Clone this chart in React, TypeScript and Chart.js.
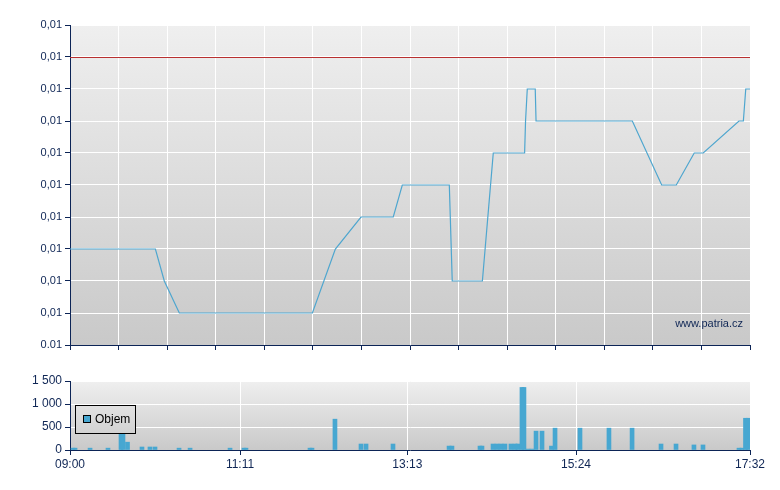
import React, { useEffect, useRef } from "react";
import { Chart, registerables } from "chart.js";

Chart.register(...registerables);

// minutes after 09:00
const priceTimes = [0, 64.3, 71, 82.3, 182.5, 199.8, 219.1, 243.4, 250.2, 285.6, 287.8, 310.5, 318.7, 342.3, 343, 344.3, 350.3, 350.9, 423.4, 445.5, 456.5, 470, 476.8, 503.7, 507, 508.8, 512];
const priceValues = [0.0103, 0.0103, 0.0102, 0.0101, 0.0101, 0.0103, 0.0104, 0.0104, 0.0105, 0.0105, 0.0102, 0.0102, 0.0106, 0.0106, 0.0107, 0.0108, 0.0108, 0.0107, 0.0107, 0.0105, 0.0105, 0.0106, 0.0106, 0.0107, 0.0107, 0.0108, 0.0108];
const referencePrice = 0.0109;

const priceTicks = [0.0100, 0.0101, 0.0102, 0.0103, 0.0104, 0.0105, 0.0106, 0.0107, 0.0108, 0.0109, 0.0110];
const priceTickLabels = ["0.01", "0,01", "0,01", "0,01", "0,01", "0,01", "0,01", "0,01", "0,01", "0,01", "0,01"];

const volumeTimes = [2.3, 3.8, 15.1, 28.6, 38.4, 39.9, 43.3, 54.2, 60.2, 64.0, 82.1, 90.4, 120.5, 131.0, 132.5, 180.7, 182.2, 199.5, 219.1, 222.9, 243.2, 285.4, 287.6, 308.7, 310.2, 318.5, 321.5, 324.5, 327.5, 332.0, 335.1, 337.3, 340.3, 341.8, 344.8, 347.9, 350.9, 355.4, 362.5, 365.2, 384.0, 405.8, 423.2, 445.0, 456.3, 469.8, 476.6, 503.7, 505.9, 508.6, 510.5];
const volumeValues = [40, 40, 40, 40, 370, 370, 170, 65, 65, 65, 40, 40, 40, 40, 40, 40, 40, 670, 130, 130, 130, 85, 85, 85, 85, 130, 130, 130, 130, 130, 130, 130, 1360, 1360, 20, 20, 410, 410, 85, 475, 475, 475, 475, 130, 130, 110, 110, 40, 40, 690, 690];

const volumeTicks = [0, 500, 1000, 1500];
const volumeTickLabels = ["0", "500", "1 000", "1 500"];

const timeTickMinutes = [0, 128, 254, 381, 512];
const timeTickLabels = ["09:00", "11:11", "13:13", "15:24", "17:32"];

const TOTAL_MIN = 512;
const NAVY = "#0c2456";
const TEXT = "#0f2655";
const LINE = "#4ea6cf";
const BAR = "#47a7d1";
const FONT = { family: "Arial, 'Liberation Sans', sans-serif", size: 11 };

const bgPlugin = {
  id: "bgGrad",
  beforeDraw(chart: any) {
    const { ctx, chartArea: a } = chart;
    const g = ctx.createLinearGradient(0, a.top, 0, a.bottom);
    g.addColorStop(0, "#efefef");
    g.addColorStop(1, "#c9c9c9");
    ctx.save();
    ctx.fillStyle = g;
    ctx.fillRect(a.left, a.top, a.right - a.left, a.bottom - a.top);
    ctx.restore();
  },
};

const refLinePlugin = {
  id: "refLine",
  beforeDatasetsDraw(chart: any) {
    const { ctx, chartArea: a, scales } = chart;
    const y = Math.round(scales.y.getPixelForValue(referencePrice)) + 0.5;
    ctx.save();
    ctx.strokeStyle = "#b83030";
    ctx.lineWidth = 1;
    ctx.beginPath();
    ctx.moveTo(a.left, y);
    ctx.lineTo(a.right, y);
    ctx.stroke();
    ctx.restore();
  },
};

const watermarkPlugin = {
  id: "watermark",
  afterDraw(chart: any) {
    const { ctx, chartArea: a } = chart;
    ctx.save();
    ctx.font = "11px Arial, 'Liberation Sans', sans-serif";
    ctx.fillStyle = TEXT;
    ctx.textAlign = "right";
    ctx.textBaseline = "middle";
    ctx.fillText("www.patria.cz", a.right - 7, a.bottom - 21);
    ctx.restore();
  },
};

const legendPlugin = {
  id: "boxLegend",
  afterDatasetsDraw(chart: any) {
    const { ctx, chartArea: a } = chart;
    const x = a.left + 5;
    const y = a.top + 24;
    const w = 60;
    const h = 28;
    ctx.save();
    const g = ctx.createLinearGradient(0, a.top, 0, a.bottom);
    g.addColorStop(0, "#efefef");
    g.addColorStop(1, "#c9c9c9");
    ctx.fillStyle = g;
    ctx.fillRect(x, y, w, h);
    ctx.strokeStyle = "#000000";
    ctx.lineWidth = 1;
    ctx.strokeRect(x + 0.5, y + 0.5, w, h);
    ctx.fillStyle = BAR;
    ctx.fillRect(x + 8, y + 10, 7, 7);
    ctx.strokeRect(x + 8.5, y + 10.5, 7, 7);
    ctx.fillStyle = "#000000";
    ctx.font = "12px Arial, 'Liberation Sans', sans-serif";
    ctx.textBaseline = "middle";
    ctx.textAlign = "left";
    ctx.fillText("Objem", x + 20, y + 15);
    ctx.restore();
  },
};

export default function App() {
  const topRef = useRef<HTMLCanvasElement>(null);
  const botRef = useRef<HTMLCanvasElement>(null);

  useEffect(() => {
    const top = new Chart(topRef.current as HTMLCanvasElement, {
      type: "line",
      data: {
        datasets: [
          {
            data: priceTimes.map((t, i) => ({ x: t, y: priceValues[i] })),
            borderColor: LINE,
            borderWidth: 1.2,
            pointRadius: 0,
            tension: 0,
          },
        ],
      },
      options: {
        responsive: false,
        animation: false,
        layout: { padding: { top: 25, right: 30, left: 0, bottom: 0 } },
        plugins: { legend: { display: false }, tooltip: { enabled: false } },
        scales: {
          x: {
            type: "linear",
            min: 0,
            max: TOTAL_MIN,
            afterBuildTicks: (s: any) => {
              s.ticks = Array.from({ length: 15 }, (_, i) => ({ value: (i * TOTAL_MIN) / 14 }));
            },
            afterFit: (s: any) => {
              s.height = 15;
            },
            ticks: { callback: () => "", font: FONT },
            grid: { color: "#ffffff", tickColor: NAVY, tickLength: 5, lineWidth: 1 },
            border: { color: NAVY, width: 1 },
          },
          y: {
            min: 0.01,
            max: 0.011,
            afterBuildTicks: (s: any) => {
              s.ticks = priceTicks.map((v) => ({ value: v }));
            },
            afterFit: (s: any) => {
              s.width = 70;
            },
            ticks: {
              color: TEXT,
              font: FONT,
              padding: 3,
              callback: (_v: any, i: number) => priceTickLabels[i],
            },
            grid: { color: "#ffffff", tickColor: NAVY, tickLength: 5, lineWidth: 1 },
            border: { color: NAVY, width: 1 },
          },
        },
      },
      plugins: [bgPlugin, refLinePlugin, watermarkPlugin],
    } as any);

    const bot = new Chart(botRef.current as HTMLCanvasElement, {
      type: "bar",
      data: {
        datasets: [
          {
            label: "Objem",
            data: volumeTimes.map((t, i) => ({ x: t, y: volumeValues[i] })),
            backgroundColor: BAR,
            borderWidth: 0,
            barThickness: 4,
          },
        ],
      },
      options: {
        responsive: false,
        animation: false,
        layout: { padding: { top: 21, right: 30, left: 0, bottom: 0 } },
        plugins: { legend: { display: false }, tooltip: { enabled: false } },
        scales: {
          x: {
            type: "linear",
            min: 0,
            max: TOTAL_MIN,
            offset: false,
            afterBuildTicks: (s: any) => {
              s.ticks = timeTickMinutes.map((v) => ({ value: v }));
            },
            afterFit: (s: any) => {
              s.height = 40;
            },
            ticks: {
              color: TEXT,
              font: { ...FONT, size: 12 },
              padding: 2,
              maxRotation: 0,
              autoSkip: false,
              callback: (_v: any, i: number) => timeTickLabels[i],
            },
            grid: { color: "#ffffff", tickColor: NAVY, tickLength: 5, lineWidth: 1, offset: false },
            border: { color: NAVY, width: 1 },
          },
          y: {
            min: 0,
            max: 1500,
            afterBuildTicks: (s: any) => {
              s.ticks = volumeTicks.map((v) => ({ value: v }));
            },
            afterFit: (s: any) => {
              s.width = 70;
            },
            ticks: {
              color: TEXT,
              font: { ...FONT, size: 12 },
              padding: 3,
              callback: (_v: any, i: number) => volumeTickLabels[i],
            },
            grid: { color: "#ffffff", tickColor: NAVY, tickLength: 5, lineWidth: 1 },
            border: { color: NAVY, width: 1 },
          },
        },
      },
      plugins: [bgPlugin, legendPlugin],
    } as any);

    return () => {
      top.destroy();
      bot.destroy();
    };
  }, []);

  return (
    <div style={{ position: "absolute", left: 0, top: 0, width: 780, height: 490, background: "#ffffff" }}>
      <canvas ref={topRef} width={780} height={360} style={{ position: "absolute", left: 0, top: 0 }} />
      <canvas ref={botRef} width={780} height={130} style={{ position: "absolute", left: 0, top: 360 }} />
    </div>
  );
}
